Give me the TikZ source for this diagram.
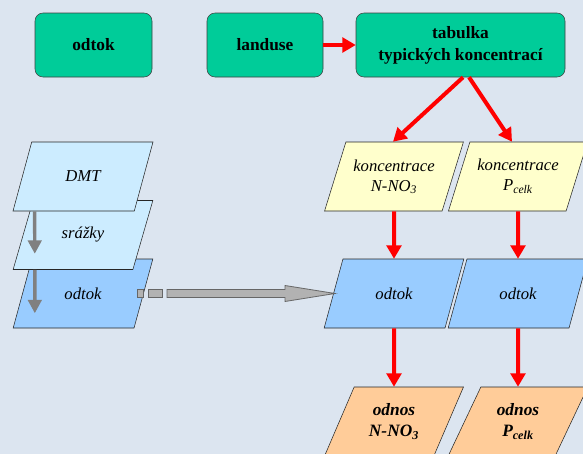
\documentclass[tikz,border=0pt]{standalone}
\usepackage{fontspec}
\setmainfont{Liberation Serif}
\usetikzlibrary{arrows.meta,positioning,shapes.geometric,calc}
\tikzset{>=Stealth}
\definecolor{bgblue}{HTML}{DCE5F0}
\definecolor{boxgreen}{HTML}{00CC99}
\definecolor{layerlight}{HTML}{CCECFF}
\definecolor{layerblue}{HTML}{99CCFF}
\definecolor{concyellow}{HTML}{FFFFCC}
\definecolor{loadorange}{HTML}{FFCC99}

\begin{document}
\begin{tikzpicture}[x=0.75pt, y=-0.75pt,
    input/.style={draw=black!75, rounded corners=6pt, fill=boxgreen, minimum height=48pt, align=center, font=\fontsize{13}{16.5}\selectfont\bfseries},
    layer/.style={draw=black!85, trapezium, trapezium left angle=63.1, trapezium right angle=116.9, trapezium stretches=true, minimum width=105pt, minimum height=51.75pt, inner sep=1pt, align=center, font=\fontsize{12.5}{15}\selectfont\itshape},
    flow/.style={->, red, line width=3pt, >={Triangle[length=10pt,width=11pt]}},
    drop/.style={->, black!50, line width=2.6pt, >={Triangle[length=10pt,width=10pt]}},
    transfer/.style={draw=black!60, fill=black!30, line width=0.6pt}
  ]
    \clip (0,0) rectangle (583,454);
    \fill[bgblue] (0,0) rectangle (583,454);

    % input data
    \node[input, minimum width=87.75pt] (odtokT) at (93.5,45) {odtok};
    \node[input, minimum width=87pt] (landuse) at (265,45) {landuse};
    \node[input, minimum width=156.75pt] (tab) at (460.5,45) {tabulka\\typických koncentrací};

    % GIS layers, drawn bottom up so the upper ones overlap
    \node[layer, fill=layerblue] (odtokL) at (83,293.5) {odtok};
    \node[layer, fill=layerlight] (srazky) at (83,235) {srážky};
    \node[layer, fill=layerlight] (dmt) at (83,176.5) {DMT};

    \node[layer, fill=concyellow] (koncN) at (394,176.5) {koncentrace\\N-NO\textsubscript{3}};
    \node[layer, fill=concyellow] (koncP) at (518,176.5) {koncentrace\\P\textsubscript{celk}};
    \node[layer, fill=layerblue] (odtokN) at (394,293.5) {odtok};
    \node[layer, fill=layerblue] (odtokP) at (518,293.5) {odtok};
    \node[layer, fill=loadorange, font=\fontsize{13}{16}\selectfont\bfseries\itshape] (odnosN) at (394,421.5) {odnos\\N-NO\textsubscript{3}};
    \node[layer, fill=loadorange, font=\fontsize{13}{16}\selectfont\bfseries\itshape] (odnosP) at (518,421.5) {odnos\\P\textsubscript{celk}};

    \draw[drop] ([xshift=16.5pt]dmt.bottom left corner) -- ([xshift=16.5pt,yshift=12pt]srazky.bottom left corner);
    \draw[drop] ([xshift=16.5pt]srazky.bottom left corner) -- ([xshift=16.5pt,yshift=11.25pt]odtokL.bottom left corner);

    % runoff layer handed over to the right
    \coordinate (gaS) at ($(odtokL.center)+(54,0)$);
    \coordinate (gaE) at ($(odtokN.center)+(-59,0)$);
    \draw[transfer] ($(gaS)+(0,-4)$) rectangle ++(6,8);
    \draw[transfer] ($(gaS)+(11,-4)$) rectangle ++(14,8);
    \draw[transfer] ($(gaS)+(30,-4)$) -- ($(gaE)+(-50,-4)$) -- ($(gaE)+(-50,-8)$) -- (gaE)
      -- ($(gaE)+(-50,8)$) -- ($(gaE)+(-50,4)$) -- ($(gaS)+(30,4)$) -- cycle;

    \draw[flow] (landuse) -- (tab);
    \draw[flow] ([xshift=1.9pt]tab.south) -- ([xshift=-0.75pt]koncN.north);
    \draw[flow] ([xshift=6.4pt]tab.south) -- ([xshift=-4.5pt]koncP.north);
    \draw[flow] (koncN) -- (odtokN);
    \draw[flow] (koncP) -- (odtokP);
    \draw[flow] (odtokN) -- (odnosN);
    \draw[flow] (odtokP) -- (odnosP);
  \end{tikzpicture}
\end{document}
